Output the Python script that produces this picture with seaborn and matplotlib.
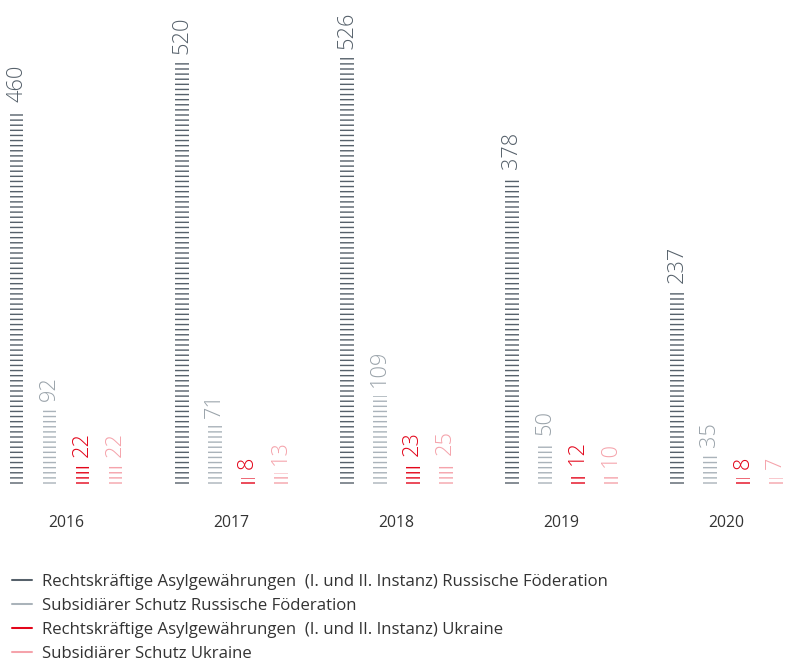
import pandas as pd
import seaborn as sns
import matplotlib.pyplot as plt
from matplotlib.lines import Line2D

years = ["2016", "2017", "2018", "2019", "2020"]
series = [
    "Rechtskräftige Asylgewährungen  (I. und II. Instanz) Russische Föderation",
    "Subsidiärer Schutz Russische Föderation",
    "Rechtskräftige Asylgewährungen  (I. und II. Instanz) Ukraine",
    "Subsidiärer Schutz Ukraine",
]
ru_asyl = [460, 520, 526, 378, 237]
ru_subsid = [92, 71, 109, 50, 35]
ua_asyl = [22, 8, 23, 12, 8]
ua_subsid = [22, 13, 25, 10, 7]
colors = ["#56616b", "#aab3ba", "#e3061b", "#f5a3ab"]
text_colors = ["#56616b", "#9aa3aa", "#e3061b", "#f5a3ab"]

rows = []
for name, vals in zip(series, [ru_asyl, ru_subsid, ua_asyl, ua_subsid]):
    for y, v in zip(years, vals):
        rows.append({"Jahr": y, "Serie": name, "Wert": v})
df = pd.DataFrame(rows)

sns.set_style("white")
plt.rcParams["font.family"] = ["Open Sans", "DejaVu Sans"]
plt.rcParams["hatch.linewidth"] = 1.1

DPI = 92  # hatch spacing scales with dpi
fig = plt.figure(figsize=(789 / DPI, 663 / DPI), dpi=DPI)
base = 484  # baseline, px from top
ax = fig.add_axes([0, 1 - base / 663, 1, base / 663])
sns.barplot(data=df, x="Jahr", y="Wert", hue="Serie", hue_order=series,
            palette=colors, width=0.8, gap=0.58, ax=ax, legend=False)

for cont, c, tc in zip(ax.containers, colors, text_colors):
    for p in cont.patches:
        p.set_facecolor("none")
        p.set_edgecolor(c)
        p.set_linewidth(0)
        p.set_hatch("---")
    ax.bar_label(cont, rotation=90, padding=7, color=tc, fontsize=17,
                 fontweight="light")

ax.set_xlim(-0.40, 4.38)
ax.set_ylim(0, base / 0.81)
ax.set_xlabel("")
ax.set_ylabel("")
ax.set_yticks([])
ax.tick_params(axis="x", length=0, pad=24.5, labelsize=12.3, labelcolor="#333333")
sns.despine(ax=ax, left=True, bottom=True)

handles = [Line2D([], [], color=c, lw=1.6) for c in colors]
fig.legend(handles, series, loc="lower left", bbox_to_anchor=(12 / 789, 1 / 663),
           frameon=False, borderpad=0, borderaxespad=0,
           handlelength=1.2, handletextpad=0.6,
           labelspacing=0.48, fontsize=13.1, labelcolor="#333333")

fig.savefig("out.png", dpi=DPI)
